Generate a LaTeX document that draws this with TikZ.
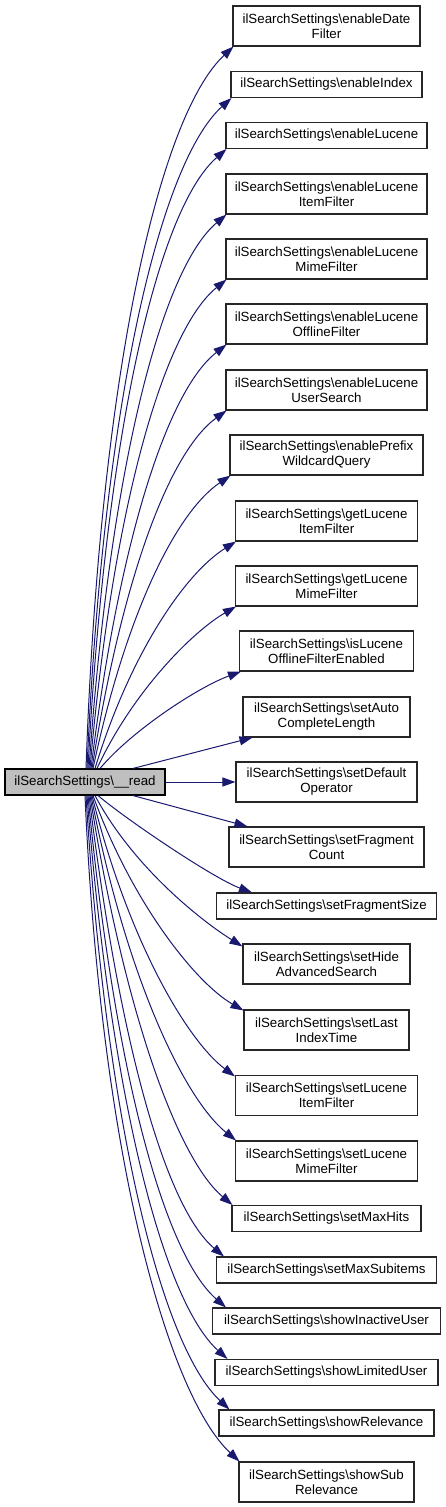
\documentclass[tikz,border=0pt]{standalone}
\usepackage{fontspec}
\setmainfont{Liberation Sans}
\usetikzlibrary{arrows.meta}
\definecolor{edgeblue}{RGB}{25,25,112}
\definecolor{mainfill}{RGB}{191,191,191}
\begin{document}
\begin{tikzpicture}[x=1pt,y=1pt,
  fn/.style={draw=black!85, line width=1.1pt, fill=white, inner sep=0pt, align=center,
    font=\fontsize{13.3}{15}\selectfont, anchor=center, minimum height=26pt},
  two/.style={minimum height=40pt},
  mainbox/.style={fn, fill=mainfill, draw=black},
  call/.style={draw=edgeblue, line width=1pt, -{Triangle[length=13pt,width=9pt]}},
]
\useasboundingbox (0,0) rectangle (445,-1507);

\node[mainbox, minimum width=160pt] (main) at (85,-782) {ilSearchSettings\textbackslash\_\_read};

\node[fn,two,minimum width=187pt] (n1) at (326.5,-26) {ilSearchSettings\textbackslash enableDate\\Filter};
\node[fn,minimum width=191pt] (n2) at (326.5,-84.5) {ilSearchSettings\textbackslash enableIndex};
\node[fn,minimum width=201pt] (n3) at (326.5,-135.5) {ilSearchSettings\textbackslash enableLucene};
\node[fn,two,minimum width=201pt] (n4) at (326.5,-194) {ilSearchSettings\textbackslash enableLucene\\ItemFilter};
\node[fn,two,minimum width=201pt] (n5) at (326.5,-259) {ilSearchSettings\textbackslash enableLucene\\MimeFilter};
\node[fn,two,minimum width=201pt] (n6) at (326.5,-324) {ilSearchSettings\textbackslash enableLucene\\OfflineFilter};
\node[fn,two,minimum width=201pt] (n7) at (326.5,-390) {ilSearchSettings\textbackslash enableLucene\\UserSearch};
\node[fn,two,minimum width=193pt] (n8) at (326.5,-455) {ilSearchSettings\textbackslash enablePrefix\\WildcardQuery};
\node[fn,two,minimum width=182pt] (n9) at (326.5,-521) {ilSearchSettings\textbackslash getLucene\\ItemFilter};
\node[fn,two,minimum width=182pt] (n10) at (326.5,-586) {ilSearchSettings\textbackslash getLucene\\MimeFilter};
\node[fn,two,minimum width=174pt] (n11) at (326.5,-651) {ilSearchSettings\textbackslash isLucene\\OfflineFilterEnabled};
\node[fn,two,minimum width=167pt] (n12) at (326.5,-717) {ilSearchSettings\textbackslash setAuto\\CompleteLength};
\node[fn,two,minimum width=181pt] (n13) at (326.5,-782) {ilSearchSettings\textbackslash setDefault\\Operator};
\node[fn,two,minimum width=195pt] (n14) at (326.5,-847) {ilSearchSettings\textbackslash setFragment\\Count};
\node[fn,minimum width=220pt] (n15) at (326.5,-906) {ilSearchSettings\textbackslash setFragmentSize};
\node[fn,two,minimum width=167pt] (n16) at (326.5,-964) {ilSearchSettings\textbackslash setHide\\AdvancedSearch};
\node[fn,two,minimum width=165pt] (n17) at (326.5,-1030) {ilSearchSettings\textbackslash setLast\\IndexTime};
\node[fn,two,minimum width=182pt] (n18) at (326.5,-1095.5) {ilSearchSettings\textbackslash setLucene\\ItemFilter};
\node[fn,two,minimum width=182pt] (n19) at (326.5,-1161) {ilSearchSettings\textbackslash setLucene\\MimeFilter};
\node[fn,minimum width=189pt] (n20) at (326.5,-1218.5) {ilSearchSettings\textbackslash setMaxHits};
\node[fn,minimum width=220pt] (n21) at (326.5,-1270) {ilSearchSettings\textbackslash setMaxSubitems};
\node[fn,minimum width=228pt] (n22) at (326.5,-1321) {ilSearchSettings\textbackslash showInactiveUser};
\node[fn,minimum width=223pt] (n23) at (326.5,-1372.5) {ilSearchSettings\textbackslash showLimitedUser};
\node[fn,minimum width=215pt] (n24) at (326.5,-1423) {ilSearchSettings\textbackslash showRelevance};
\node[fn,two,minimum width=175pt] (n25) at (326.5,-1482) {ilSearchSettings\textbackslash showSub\\Relevance};

% edges to targets above
\draw[call] ([xshift=1pt]main.north) to[out=88,in=223,out distance=400pt,in distance=100pt] ([xshift=1pt]n1.south west);
\draw[call] ([xshift=2pt]main.north) to[out=87.5,in=222,out distance=370pt,in distance=95pt] ([xshift=1pt]n2.south west);
\draw[call] ([xshift=3pt]main.north) to[out=87,in=221,out distance=340pt,in distance=90pt] ([xshift=1pt]n3.south west);
\draw[call] ([xshift=4pt]main.north) to[out=86,in=220,out distance=300pt,in distance=85pt] ([xshift=1pt]n4.south west);
\draw[call] ([xshift=5pt]main.north) to[out=85,in=219,out distance=265pt,in distance=80pt] ([xshift=1pt]n5.south west);
\draw[call] ([xshift=6pt]main.north) to[out=83,in=218,out distance=230pt,in distance=75pt] ([xshift=1pt]n6.south west);
\draw[call] ([xshift=7pt]main.north) to[out=81,in=216,out distance=195pt,in distance=70pt] ([xshift=1pt]n7.south west);
\draw[call] ([xshift=8pt]main.north) to[out=78,in=214,out distance=160pt,in distance=65pt] ([xshift=1pt]n8.south west);
\draw[call] ([xshift=10pt]main.north) to[out=73,in=212,out distance=120pt,in distance=60pt] ([xshift=1pt]n9.south west);
\draw[call] ([xshift=12pt]main.north) to[out=65,in=210,out distance=85pt,in distance=50pt] ([xshift=1pt]n10.south west);
\draw[call] ([xshift=15pt]main.north) to[out=50,in=200,out distance=50pt,in distance=45pt] ([xshift=2pt]n11.south west);
% near-straight edges
\draw[call] ([xshift=48pt]main.north) -- ([xshift=10pt]n12.south west);
\draw[call] (main.east) -- (n13.west);
\draw[call] ([xshift=48pt]main.south) -- ([xshift=19pt]n14.north west);
% edges to targets below
\draw[call] ([xshift=13pt]main.south) to[out=-40,in=160,out distance=40pt,in distance=40pt] ([xshift=36pt]n15.north west);
\draw[call] ([xshift=10pt]main.south) to[out=-62,in=148,out distance=80pt,in distance=50pt] ([yshift=-3pt]n16.north west);
\draw[call] ([xshift=8pt]main.south) to[out=-70,in=150,out distance=115pt,in distance=55pt] ([yshift=-1pt]n17.north west);
\draw[call] ([xshift=7pt]main.south) to[out=-76,in=143,out distance=150pt,in distance=60pt] ([yshift=-1.5pt]n18.north west);
\draw[call] ([xshift=6pt]main.south) to[out=-79,in=141,out distance=190pt,in distance=65pt] ([xshift=1pt]n19.north west);
\draw[call] ([xshift=5pt]main.south) to[out=-81,in=140,out distance=225pt,in distance=70pt] ([xshift=1pt]n20.north west);
\draw[call] ([xshift=4pt]main.south) to[out=-83,in=140,out distance=255pt,in distance=75pt] ([xshift=8pt]n21.north west);
\draw[call] ([xshift=3pt]main.south) to[out=-84.5,in=139,out distance=285pt,in distance=80pt] ([xshift=14pt]n22.north west);
\draw[call] ([xshift=2pt]main.south) to[out=-85.5,in=138,out distance=310pt,in distance=85pt] ([xshift=13pt]n23.north west);
\draw[call] ([xshift=1pt]main.south) to[out=-86.5,in=137,out distance=340pt,in distance=90pt] ([xshift=11pt]n24.north west);
\draw[call] ([xshift=0pt]main.south) to[out=-87.5,in=137,out distance=370pt,in distance=95pt] ([xshift=1pt]n25.north west);
\end{tikzpicture}
\end{document}
